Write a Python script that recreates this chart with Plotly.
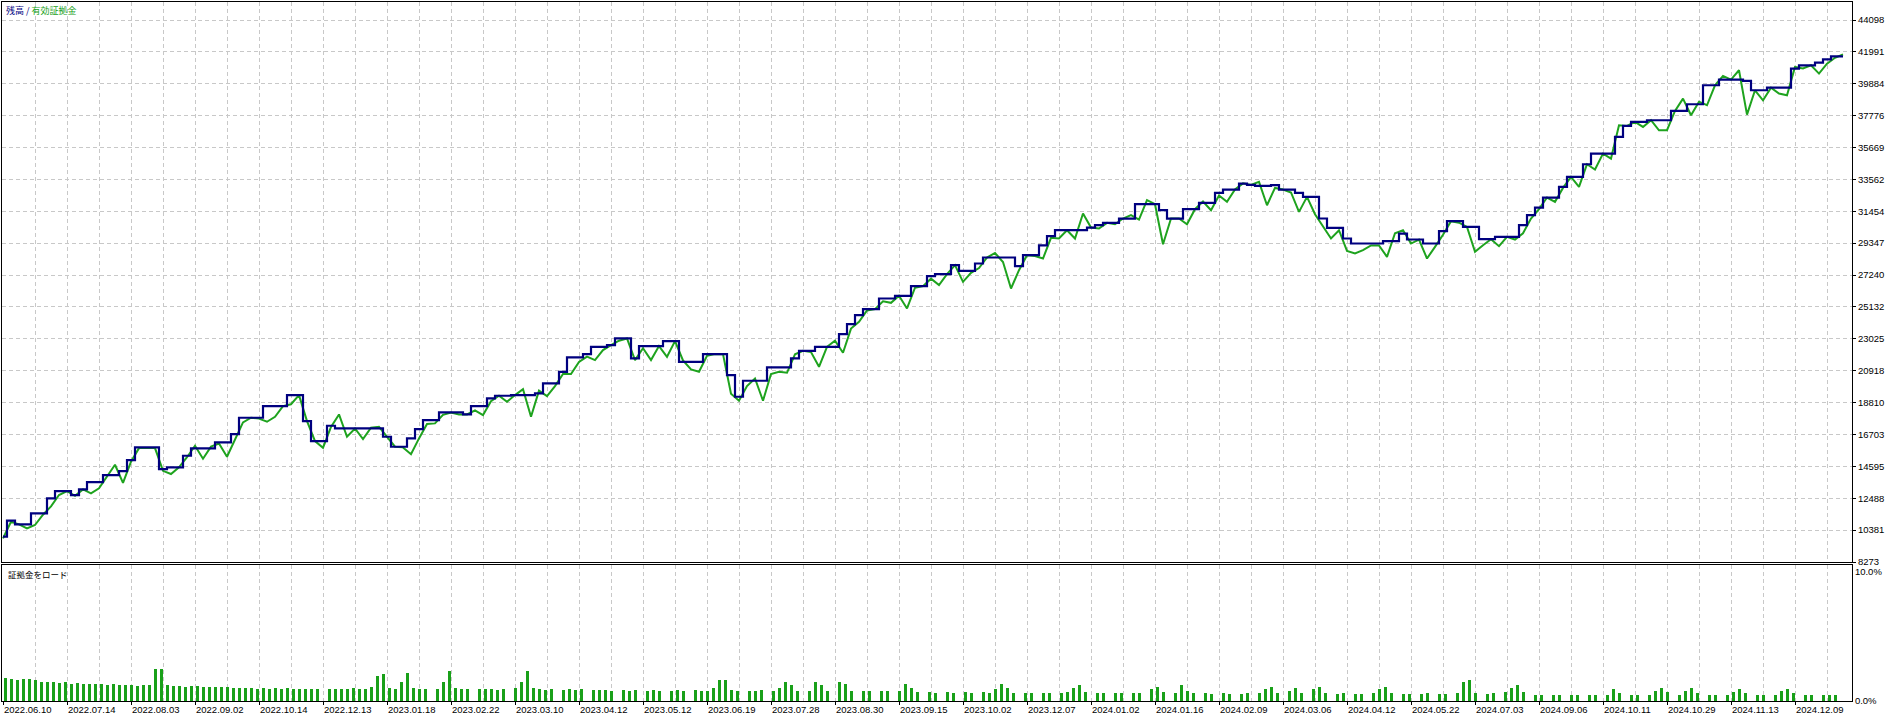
import plotly.graph_objects as go

# ---------------- data ----------------
# Balance (残高) and equity (有効証拠金) sampled along the deal axis
balance = [
    9947, 11003, 10761, 10761, 11488, 11488, 12479, 12963, 12963, 12699,
    13073, 13558, 13558, 14020, 14020, 14284, 15011, 15848, 15848, 15848,
    14417, 14527, 14527, 15297, 15782, 15782, 15782, 16178, 16178, 16729,
    17808, 17808, 17808, 18578, 18578, 18578, 19305, 19305, 17588, 16266,
    16266, 17279, 17103, 17103, 17103, 17103, 17103, 17103, 16553, 15892,
    15892, 16443, 17059, 17654, 17654, 18160, 18160, 18160, 18028, 18578,
    18578, 19085, 19261, 19261, 19305, 19305, 19305, 19415, 20076, 20076,
    20846, 21793, 21793, 22013, 22498, 22498, 22608, 23048, 23048, 21727,
    22542, 22542, 22542, 22872, 22872, 21507, 21507, 21507, 22013, 22013,
    22013, 20626, 19195, 20252, 20252, 20252, 21133, 21133, 21133, 21727,
    22234, 22234, 22498, 22498, 22498, 23335, 24000, 24590, 24986, 24986,
    25691, 25691, 25867, 25867, 26506, 26506, 27166, 27299, 27299, 27893,
    27519, 27519, 28003, 28399, 28399, 28399, 28399, 27827, 28553, 28553,
    29200, 29808, 30205, 30205, 30205, 30205, 30381, 30535, 30689, 30689,
    30975, 30975, 31922, 31922, 31922, 31526, 30975, 30975, 31592, 31592,
    32011, 32011, 32671, 32891, 32891, 33288, 33200, 33134, 33134, 33178,
    32891, 32891, 32671, 32407, 32407, 30976, 30359, 30359, 29654, 29324,
    29324, 29324, 29324, 29478, 29478, 29984, 29588, 29588, 29324, 29324,
    30139, 30799, 30799, 30425, 30425, 29610, 29610, 29764, 29764, 29764,
    30535, 31196, 31702, 32363, 32363, 33068, 33728, 33728, 34565, 35270,
    35270, 35270, 36371, 37097, 37361, 37361, 37472, 37472, 37472, 38088,
    38088, 38528, 38528, 39784, 39784, 40158, 40158, 40158, 40070, 39453,
    39453, 39630, 39630, 39630, 40885, 41105, 41105, 41281, 41500, 41699,
    41699,
]

equity = [
    9836, 10937, 10761, 10497, 10718, 11400, 11950, 12700, 12963, 12650,
    13073, 12809, 13139, 13900, 14700, 13500, 14900, 15800, 15800, 15800,
    14300, 14086, 14527, 15200, 15958, 15100, 15900, 16100, 15232, 16400,
    17500, 17808, 17750, 17544, 17874, 18578, 18700, 19305, 17588, 16266,
    15826, 17200, 18028, 16553, 17100, 16399, 17150, 17213, 16553, 15892,
    15850, 15400, 16443, 17400, 17434, 18000, 18160, 18028, 18028, 18300,
    17984, 18900, 19261, 18864, 19305, 19700, 17874, 19600, 19239, 19900,
    20700, 20692, 21500, 21850, 21617, 22278, 22608, 22900, 23048, 21617,
    22400, 21617, 22542, 21837, 22872, 21600, 21001, 20847, 21900, 22013,
    22013, 19400, 18931, 19900, 20406, 18931, 20700, 20847, 20780, 22000,
    22234, 22150, 21177, 22498, 22900, 22102, 23700, 24150, 24900, 24986,
    25500, 25405, 25867, 25031, 26400, 26506, 27000, 26572, 27299, 27893,
    26792, 27387, 27700, 28399, 28700, 28100, 26352, 27563, 28553, 28500,
    28334, 29700, 29654, 30205, 29654, 31306, 30381, 30315, 30689, 30600,
    30975, 31200, 30910, 32187, 31922, 29280, 30975, 30975, 30601, 31592,
    32100, 31526, 32500, 32077, 32891, 33300, 33200, 33398, 31856, 33000,
    32891, 32700, 31416, 32407, 31262, 30425, 29654, 30200, 28840, 28664,
    28884, 29200, 29200, 28444, 30000, 30200, 29324, 29588, 28334, 29100,
    29900, 30799, 30700, 30425, 28774, 29214, 29610, 29148, 29764, 29588,
    30000, 30975, 31600, 32363, 32077, 33000, 33728, 33068, 34565, 34213,
    35270, 34940, 37141, 37097, 37361, 37031, 37472, 36811, 36811, 38088,
    38903, 37802, 38700, 38462, 39784, 40400, 40158, 40775, 37846, 39453,
    38793, 39630, 39233, 39123, 40995, 40900, 41105, 40555, 41215, 41600,
    41831,
]

# 証拠金をロード (margin load, %) per deal
margin_load = [
    1.75, 1.7, 1.65, 1.7, 1.7, 1.6, 1.5, 1.5, 1.45, 1.4,
    1.45, 1.35, 1.4, 1.35, 1.3, 1.35, 1.3, 1.25, 1.3, 1.2,
    1.25, 1.2, 1.15, 1.2, 1.2, 2.45, 2.45, 1.2, 1.15, 1.15,
    1.1, 1.15, 1.15, 1.1, 1.1, 1.1, 1.05, 1.05, 1.0, 1.0,
    1.0, 1.0, 0.95, 1.0, 0.95, 1.0, 0.95, 1.0, 0.95, 0.9,
    0.95, 0.9, 0.95, 0, 0.95, 0.9, 0.95, 0.9, 1.0, 0.9,
    0.95, 1.1, 1.9, 2.1, 1.0, 0.9, 1.5, 2.2, 1.0, 0.9,
    0.95, 0, 0.9, 1.5, 2.3, 1.0, 0.9, 0.95, 0, 0.9,
    0.9, 0.95, 0.85, 0.9, 0, 1.0, 1.5, 2.3, 1.0, 0.9,
    0.85, 0.9, 0, 0.85, 0.9, 0.85, 0.9, 0, 0.85, 0.85,
    0.85, 0.8, 0, 0.85, 0.8, 0.85, 0, 0.8, 0.85, 0.8,
    0, 0.8, 0.85, 0.8, 0, 0.85, 0.8, 0.8, 1.0, 1.6,
    1.6, 0.85, 0.8, 0, 0.8, 0.8, 0.85, 0, 0.8, 1.0,
    1.5, 1.2, 0.8, 0, 0.8, 1.5, 1.2, 0.8, 0, 1.5,
    1.3, 0.8, 0, 0.8, 0.75, 0, 0.8, 0.75, 0, 0.8,
    1.3, 1.0, 0.7, 0, 0.7, 0.65, 0, 0.7, 0.65, 0,
    0.7, 0.65, 0, 0.7, 0.65, 0.9, 1.3, 1.0, 0.65, 0,
    0.65, 0.65, 0, 0.65, 0.6, 0, 0.65, 0.7, 1.0, 1.2,
    0.7, 0, 0.65, 0.6, 0, 0.6, 0.65, 0, 0.65, 0.6,
    0, 0.9, 1.1, 0.7, 0, 0.65, 1.2, 0.8, 0.6, 0,
    0.6, 0.55, 0, 0.6, 0.55, 0, 0.55, 0.6, 0, 0.6,
    0.9, 1.1, 0.6, 0, 0.8, 1.0, 0.6, 0, 0.9, 1.1,
    0.6, 0, 0.55, 0.6, 0, 0.55, 0.55, 0, 0.6, 0.9,
    1.1, 0.6, 0, 0.55, 0.55, 0, 0.55, 0.6, 0, 0.55,
    0.55, 0, 0.6, 1.5, 1.6, 0.6, 0, 0.55, 0.6, 0,
    0.7, 1.0, 1.2, 0.7, 0, 0.5, 0.45, 0, 0.5, 0.45,
    0, 0.45, 0.5, 0, 0.5, 0.45, 0, 0.5, 0.9, 0.6,
    0, 0.45, 0.45, 0, 0.5, 0.8, 1.0, 0.7, 0, 0.45,
    0.8, 1.0, 0.6, 0, 0.45, 0.45, 0, 0.5, 0.7, 0.9,
    0.6, 0, 0.45, 0.45, 0, 0.5, 0.8, 0.9, 0.6, 0,
    0.45, 0.45, 0, 0.45, 0.45, 0.45,
]

date_labels = [
    "2022.06.10", "2022.07.14", "2022.08.03", "2022.09.02", "2022.10.14",
    "2022.12.13", "2023.01.18", "2023.02.22", "2023.03.10", "2023.04.12",
    "2023.05.12", "2023.06.19", "2023.07.28", "2023.08.30", "2023.09.15",
    "2023.10.02", "2023.12.07", "2024.01.02", "2024.01.16", "2024.02.09",
    "2024.03.06", "2024.04.12", "2024.05.22", "2024.07.03", "2024.09.06",
    "2024.10.11", "2024.10.29", "2024.11.13", "2024.12.09",
]

y_tick_labels = [8273, 10381, 12488, 14595, 16703, 18810, 20918, 23025, 25132,
                 27240, 29347, 31454, 33562, 35669, 37776, 39884, 41991, 44098]
load_ticks = [0, 10]
load_tick_text = ["0.0%", "10.0%"]

# ---------------- layout geometry (pixels) ----------------
W, H = 1886, 715
PX_L, PX_R = 2, 1852
TOP_Y0, TOP_Y1 = 2, 562
BOT_Y0, BOT_Y1 = 565, 701
LINE_X0, LINE_STEP = 3, 8      # pixel of first line sample, pixels per sample
BAR_X0, BAR_STEP = 5, 6        # pixel of first bar, pixels per bar
LABEL_X0, LABEL_STEP = 3, 64   # date labels every 64 px, grid every 32 px
PX_PER_TICK = (TOP_Y1 - 20) / 17.0
VAL_PER_TICK = (y_tick_labels[-1] - y_tick_labels[0]) / 17.0


def line_u(px):
    return (px - LINE_X0) / LINE_STEP


def bar_u(px):
    return (px - BAR_X0) / BAR_STEP


y_lo = y_tick_labels[0]
y_hi = y_lo + (TOP_Y1 - TOP_Y0) * VAL_PER_TICK / PX_PER_TICK

x_line = list(range(len(balance)))
x_bar = list(range(len(margin_load)))

BLUE = "#00007f"
GREEN = "#1ea31e"
GRID = dict(showgrid=True, gridcolor="#c8c8c8", griddash="4px,3px", gridwidth=1)
FRAME = dict(showline=True, mirror=True, linecolor="black", linewidth=1, zeroline=False)
TICKFONT = dict(family="Liberation Sans, Arial, sans-serif", size=9.5, color="#000000")

fig = go.Figure()
fig.add_trace(go.Scatter(x=x_line, y=equity, mode="lines", name="有効証拠金",
                         line=dict(color=GREEN, width=2), xaxis="x", yaxis="y",
                         hoverinfo="skip"))
fig.add_trace(go.Scatter(x=x_line, y=balance, mode="lines", name="残高",
                         line=dict(color=BLUE, width=2.2, shape="hvh"),
                         xaxis="x", yaxis="y", hoverinfo="skip"))
fig.add_trace(go.Bar(x=x_bar, y=margin_load, name="証拠金をロード",
                     marker=dict(color="#19a019", line=dict(width=0)),
                     width=0.5, xaxis="x2", yaxis="y2", hoverinfo="skip"))

label_px = [LABEL_X0 + LABEL_STEP * k for k in range(len(date_labels))]
minor_px = [p + LABEL_STEP / 2 for p in label_px]

fig.update_layout(
    width=W, height=H,
    margin=dict(l=0, r=0, t=0, b=0),
    paper_bgcolor="white", plot_bgcolor="white",
    showlegend=False, bargap=0,
    xaxis=dict(domain=[PX_L / W, PX_R / W], range=[line_u(PX_L), line_u(PX_R)],
               anchor="y", showticklabels=False, ticks="",
               tickmode="linear", tick0=0, dtick=(LABEL_STEP / 2) / LINE_STEP,
               automargin=False, **GRID, **FRAME),
    yaxis=dict(domain=[1 - TOP_Y1 / H, 1 - TOP_Y0 / H], range=[y_lo, y_hi],
               anchor="x", side="right", tickmode="array",
               tickvals=y_tick_labels, ticktext=[str(v) for v in y_tick_labels],
               ticks="outside", ticklen=3, tickcolor="black", tickfont=TICKFONT,
               automargin=False, **GRID, **FRAME),
    xaxis2=dict(domain=[PX_L / W, PX_R / W], range=[bar_u(PX_L), bar_u(PX_R)],
                anchor="y2", tickmode="array",
                tickvals=[bar_u(p) for p in label_px], ticktext=date_labels,
                ticks="outside", ticklen=3, tickcolor="black",
                ticklabelposition="outside right", tickfont=TICKFONT,
                minor=dict(tickmode="array", tickvals=[bar_u(p) for p in minor_px],
                           showgrid=True, gridcolor="#c8c8c8", griddash="4px,3px", ticks=""),
                automargin=False, **GRID, **FRAME),
    yaxis2=dict(domain=[1 - BOT_Y1 / H, 1 - BOT_Y0 / H], range=[0, 10.5],
                anchor="x2", side="right", tickmode="array",
                tickvals=load_ticks, ticktext=load_tick_text,
                ticks="", showgrid=False, tickfont=TICKFONT,
                automargin=False, **FRAME),
    annotations=[
        dict(xref="paper", yref="paper", x=4 / W, y=1 - 11 / H,
             xanchor="left", yanchor="middle", showarrow=False,
             text=f'<span style="color:{BLUE}">残高 / </span><span style="color:#16a016">有効証拠金</span>',
             font=dict(family="Noto Sans CJK JP", size=9)),
        dict(xref="paper", yref="paper", x=6 / W, y=1 - 574 / H,
             xanchor="left", yanchor="middle", showarrow=False,
             text="証拠金をロード",
             font=dict(family="Noto Sans CJK JP", size=8.5, color="black")),
    ],
)

fig.write_html(
    "out.html",
    config={"displayModeBar": False},
    post_script="document.body.style.margin='0';document.body.style.overflow='hidden';",
)
